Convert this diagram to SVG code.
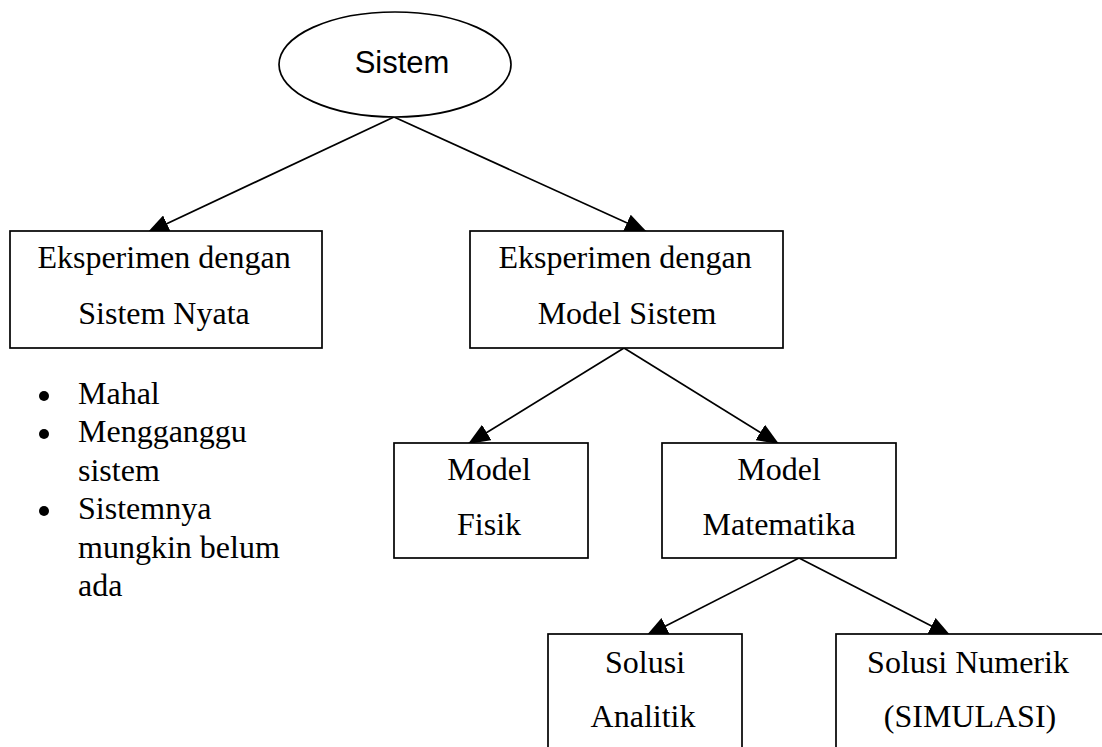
<svg xmlns="http://www.w3.org/2000/svg" width="1102" height="747" viewBox="0 0 1102 747">
  <defs>
    <marker id="arrow" viewBox="0 0 22 18" refX="22" refY="9" markerWidth="22" markerHeight="18" markerUnits="userSpaceOnUse" orient="auto">
      <path d="M0,0 L22,9 L0,18 Z" fill="#000"/>
    </marker>
    <style>
      .box { fill: #fff; stroke: #000; stroke-width: 1.7; }
      .conn { stroke: #000; stroke-width: 1.7; fill: none; marker-end: url(#arrow); }
      .t { font-family: "Liberation Serif", "Times New Roman", serif; font-size: 32px; fill: #000; }
      .c { text-anchor: middle; }
      .sans { font-family: "Liberation Sans", Arial, sans-serif; font-size: 31px; fill: #000; text-anchor: middle; }
    </style>
  </defs>
  <rect width="1102" height="747" fill="#fff"/>

  <g id="connectors">
    <line class="conn" x1="394" y1="117" x2="147" y2="233"/>
    <line class="conn" x1="394" y1="117" x2="647" y2="232"/>
    <line class="conn" x1="624" y1="348" x2="468" y2="444"/>
    <line class="conn" x1="624" y1="348" x2="779" y2="444"/>
    <line class="conn" x1="799" y1="558" x2="646" y2="636"/>
    <line class="conn" x1="799" y1="558" x2="951" y2="636"/>
  </g>

  <g id="sistem">
    <ellipse class="box" cx="395" cy="64.5" rx="116" ry="52.5"/>
    <text class="sans" x="402" y="73">Sistem</text>
  </g>

  <g id="eksperimen-nyata">
    <rect class="box" x="10" y="231" width="312" height="117"/>
    <text class="t c" x="164" y="268">Eksperimen dengan</text>
    <text class="t c" x="164" y="324">Sistem Nyata</text>
  </g>

  <g id="kekurangan">
    <circle cx="44" cy="396" r="5"/>
    <circle cx="44" cy="434" r="5"/>
    <circle cx="44" cy="511" r="5"/>
    <text class="t" x="78" y="404">Mahal</text>
    <text class="t" x="78" y="442">Mengganggu</text>
    <text class="t" x="78" y="481">sistem</text>
    <text class="t" x="78" y="519">Sistemnya</text>
    <text class="t" x="78" y="558">mungkin belum</text>
    <text class="t" x="78" y="596">ada</text>
  </g>

  <g id="eksperimen-model">
    <rect class="box" x="470" y="231" width="313" height="117"/>
    <text class="t c" x="625" y="268">Eksperimen dengan</text>
    <text class="t c" x="627" y="324">Model Sistem</text>
  </g>

  <g id="model-fisik">
    <rect class="box" x="394" y="443" width="194" height="115"/>
    <text class="t c" x="489" y="480">Model</text>
    <text class="t c" x="489" y="535">Fisik</text>
  </g>

  <g id="model-matematika">
    <rect class="box" x="662" y="443" width="234" height="115"/>
    <text class="t c" x="779" y="480">Model</text>
    <text class="t c" x="779" y="535">Matematika</text>
  </g>

  <g id="solusi-analitik">
    <rect class="box" x="548" y="634" width="194" height="130"/>
    <text class="t c" x="645" y="673">Solusi</text>
    <text class="t c" x="643" y="727">Analitik</text>
  </g>

  <g id="solusi-numerik">
    <rect class="box" x="836" y="634" width="290" height="130"/>
    <text class="t c" x="968" y="673">Solusi Numerik</text>
    <text class="t c" x="970" y="727">(SIMULASI)</text>
  </g>
</svg>
